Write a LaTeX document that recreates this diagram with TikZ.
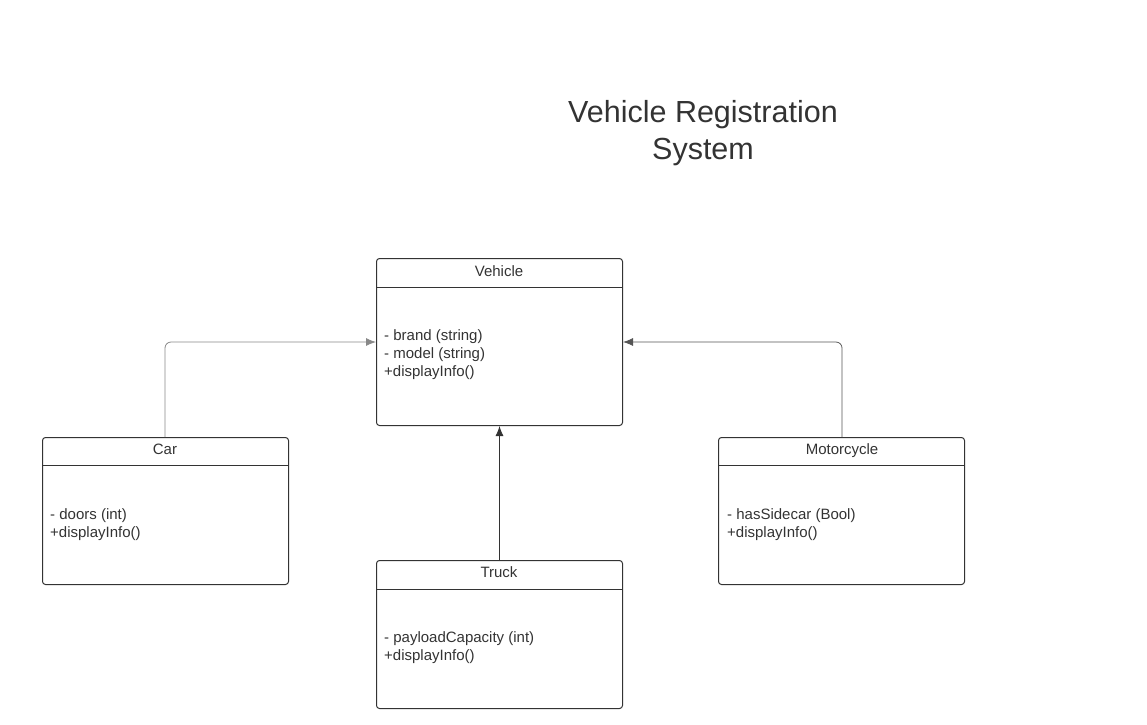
\documentclass[tikz,border=0pt]{standalone}
\usepackage{fontspec}
\setmainfont{Liberation Sans}
\usetikzlibrary{arrows.meta,calc}
\definecolor{ink}{HTML}{333333}
\definecolor{wire}{HTML}{555555}
\begin{document}
\begin{tikzpicture}[x=1pt,y=-1pt,
  classbox/.style={draw=ink,line width=1pt,rounded corners=3pt,inner sep=0pt,
    minimum width=246pt,anchor=north west},
  hdr/.style={text=ink,font=\fontsize{15}{18}\selectfont,anchor=center,
    text height=11pt,text depth=3pt,inner sep=0pt},
  attrs/.style={text=ink,font=\fontsize{15}{18}\selectfont,align=left,anchor=west,inner sep=0pt},
  sep/.style={draw=ink,line width=1pt},
  inherit/.style={draw=wire,line width=0.8pt,rounded corners=6pt,
    -{Latex[length=10pt,width=8pt]}}]
\useasboundingbox (0,0) rectangle (1147,724);
% title
\node[text=ink,font=\fontsize{30.5}{37}\selectfont,align=center] (title) at (703,133) {Vehicle Registration\\System};
% boxes
\node[classbox,minimum height=167pt] (veh) at (376,258) {};
\node[classbox,minimum height=147pt] (car) at (42,437) {};
\node[classbox,minimum height=147pt] (moto) at (718,437) {};
\node[classbox,minimum height=148pt] (truck) at (376,560) {};
% header separators
\draw[sep] (veh.west |- 0,287) coordinate (vs1) -- (veh.east |- 0,287) coordinate (vs2);
\draw[sep,line width=1.6pt] (car.west |- 0,465.5) coordinate (cs1) -- (car.east |- 0,465.5) coordinate (cs2);
\draw[sep,line width=1.6pt] (moto.west |- 0,465.5) coordinate (ms1) -- (moto.east |- 0,465.5) coordinate (ms2);
\draw[sep] (truck.west |- 0,589) coordinate (ts1) -- (truck.east |- 0,589) coordinate (ts2);
% headers
\node[hdr] (vehname) at (499,272) {Vehicle};
\node[hdr] (carname) at (165,450) {Car};
\node[hdr] (motoname) at (842,450) {Motorcycle};
\node[hdr] (truckname) at (499,573) {Truck};
% attributes
\node[attrs] (vehattr) at (384,355) {- brand (string)\\- model (string)\\+displayInfo()};
\node[attrs] (carattr) at (50,525) {- doors (int)\\+displayInfo()};
\node[attrs] (motoattr) at (727,525) {- hasSidecar (Bool)\\+displayInfo()};
\node[attrs] (truckattr) at (384,648) {- payloadCapacity (int)\\+displayInfo()};
% inheritance connectors
\coordinate (carbend) at (165,342);
\coordinate (motobend) at (842,342);
\draw[inherit,draw=wire!70] (car.north -| carbend) -- (carbend) -- (veh.west |- carbend);
\draw[inherit] (moto.north -| motobend) -- (motobend) -- (veh.east |- motobend);
\draw[inherit,draw=ink] (truck.north) -- (veh.south);
\end{tikzpicture}
\end{document}
